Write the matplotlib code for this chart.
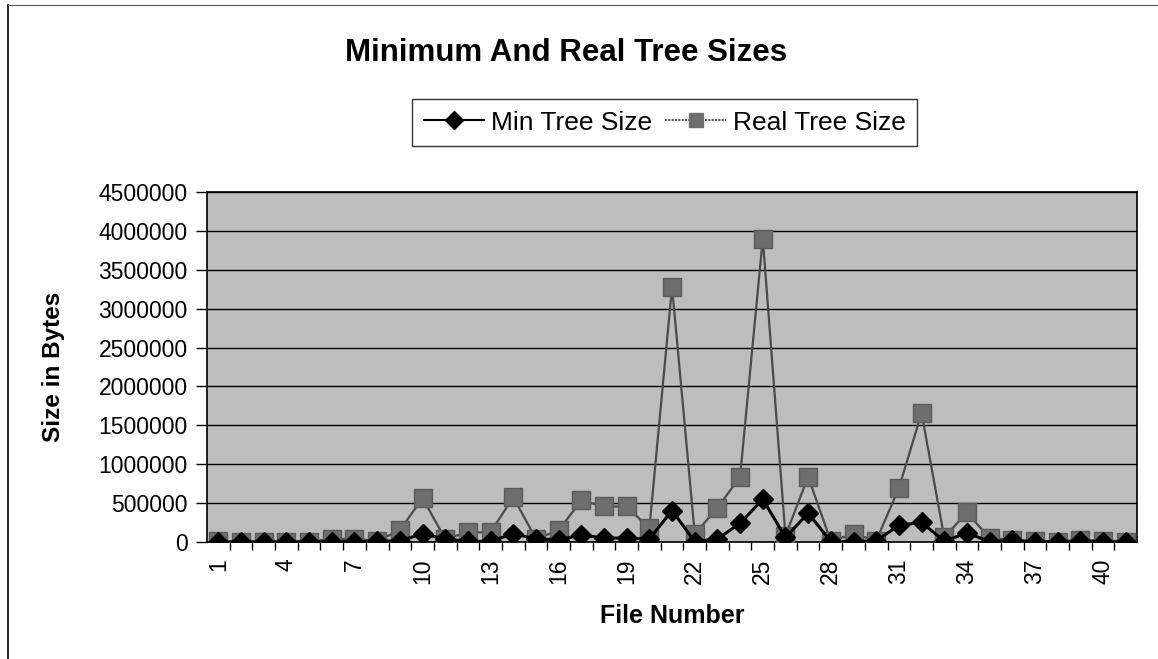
import matplotlib
matplotlib.use("Agg")
import matplotlib.pyplot as plt
from matplotlib.lines import Line2D

plt.rcParams['font.family'] = ['Liberation Sans', 'DejaVu Sans']

# file numbers 1..41
files = list(range(1, 42))

# tree sizes in bytes
min_size = [2000, 2000, 3000, 2000, 3000, 5000, 5000, 8000, 17000, 103000,
            40000, 8000, 8000, 107000, 40000, 30000, 90000, 51000, 51000, 38000,
            405000, 5000, 40000, 240000, 550000, 60000, 370000, 8000, 5000, 15000,
            214000, 252000, 10000, 118000, 5000, 20000, 5000, 3000, 15000, 5000, 3000]
real_size = [10000, 5000, 5000, 5000, 5000, 40000, 40000, 15000, 150000, 565000,
             40000, 125000, 125000, 577000, 40000, 150000, 534000, 457000, 457000, 175000,
             3280000, 105000, 437000, 840000, 3900000, 80000, 840000, 10000, 105000, 17000,
             692000, 1660000, 60000, 380000, 50000, 30000, 10000, 5000, 30000, 10000, 5000]

fig = plt.figure(figsize=(11.58, 6.59), dpi=100)
ax = fig.add_axes([0.1788, 0.1775, 0.8031, 0.5312])
ax.set_facecolor('#bdbdbd')

ax.plot(files, real_size, color='#4a4a4a', lw=1.6, marker='s', ms=12.5,
        mfc='#6e6e6e', mec='#5a5a5a', zorder=3, label='Real Tree Size')
ax.plot(files, min_size, color='black', lw=2.2, marker='D', ms=10,
        mfc='black', mec='black', zorder=4, label='Min Tree Size')

ax.set_xlim(0.5, 41.5)
ax.set_ylim(0, 4500000)
ax.set_yticks(range(0, 4500001, 500000))
ax.set_yticklabels([str(v) for v in range(0, 4500001, 500000)], fontsize=16.5)
ax.grid(axis='y', color='black', lw=1.0)
ax.set_axisbelow(True)

# every third file labelled, tick marks between categories
ax.set_xticks(files[::3])
ax.set_xticklabels([str(f) for f in files[::3]], rotation=90, fontsize=16.5)
ax.tick_params(axis='x', length=0, pad=12)
ax.set_xticks([f + 0.5 for f in files[:-1]], minor=True)
ax.tick_params(axis='x', which='minor', length=6, width=1, direction='out')
ax.tick_params(axis='y', length=8, width=1, direction='out', pad=6)

for s in ax.spines.values():
    s.set_color('black')
    s.set_linewidth(1.2)

ax.set_ylabel('Size in Bytes', fontsize=17.5, fontweight='bold', labelpad=24)
ax.set_xlabel('File Number', fontsize=18, fontweight='bold', labelpad=14)

fig.text(0.489, 0.919, 'Minimum And Real Tree Sizes', ha='center', va='center',
         fontsize=22.5, fontweight='bold')

handles = [Line2D([], [], color='black', lw=1.5, marker='D', ms=9, mfc='black'),
           Line2D([], [], color='#555555', lw=1.5, ls=(0, (1, 0.6)), marker='s', ms=10,
                  mfc='#6e6e6e', mec='#6e6e6e')]
leg = fig.legend(handles, ['Min Tree Size', 'Real Tree Size'], ncol=2,
                 loc='center', bbox_to_anchor=(0.574, 0.814), fontsize=19,
                 frameon=True, fancybox=False, handlelength=2.3, handletextpad=0.25,
                 columnspacing=0.5, borderpad=0.45, borderaxespad=0)
leg.get_frame().set_edgecolor('black')
leg.get_frame().set_linewidth(1.0)

# outer chart border
fig.add_artist(Line2D([0.007, 0.007], [0.0, 0.992], color='black', lw=1.2))
fig.add_artist(Line2D([0.007, 0.999], [0.992, 0.992], color='#555555', lw=0.8))

fig.savefig('out.png', dpi=100)
